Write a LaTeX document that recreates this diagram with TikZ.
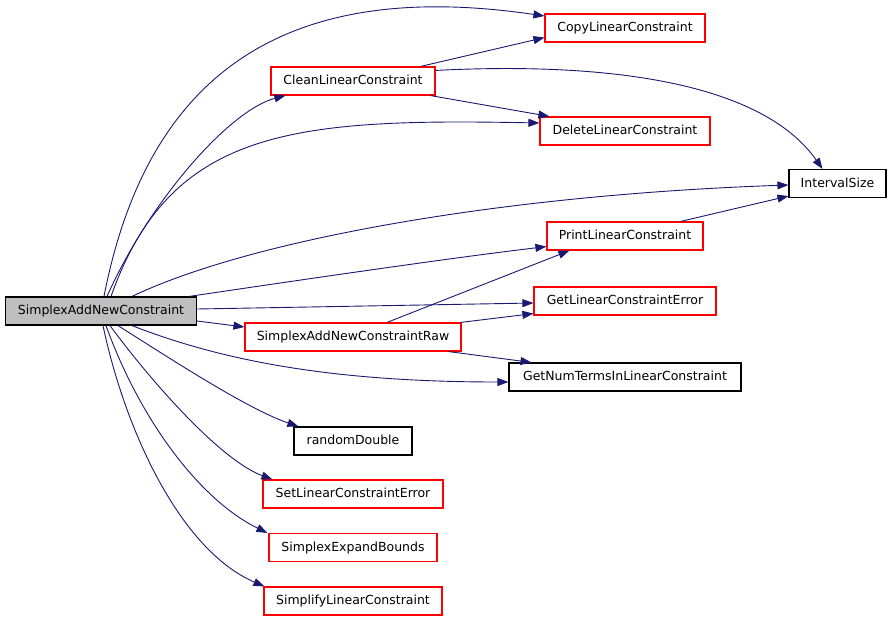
\documentclass[tikz,border=0pt]{standalone}
\usepackage{fontspec}
\setmainfont{DejaVu Sans}
\usetikzlibrary{arrows.meta}
\definecolor{edgeblue}{RGB}{25,25,112}
\definecolor{mainfill}{RGB}{191,191,191}
\definecolor{boxred}{RGB}{255,0,0}
\begin{document}
\begin{tikzpicture}[x=1pt,y=-1pt,
  box/.style={draw=boxred, line width=1.15pt, fill=white, minimum height=28pt, inner sep=0pt,
    font=\fontsize{12.5}{14}\selectfont, text height=9.5pt, text depth=2.5pt},
  bbox/.style={box, draw=black},
  mainbox/.style={box, draw=black, fill=mainfill},
  edge/.style={draw=edgeblue, line width=0.9pt, -{Triangle[length=11pt,width=8pt]}},
]
\useasboundingbox (0,0) rectangle (891,621);

\node[mainbox, minimum width=191pt] (main) at (101,311) {SimplexAddNewConstraint};
\node[box, minimum width=160pt] (copy) at (625,28) {CopyLinearConstraint};
\node[box, minimum width=164pt] (clean) at (353,81) {CleanLinearConstraint};
\node[box, minimum width=170pt] (delete) at (625,131) {DeleteLinearConstraint};
\node[bbox, minimum width=97pt] (interval) at (837.5,183.5) {IntervalSize};
\node[box, minimum width=156pt] (print) at (625,236) {PrintLinearConstraint};
\node[box, minimum width=182pt] (geterr) at (625,301) {GetLinearConstraintError};
\node[box, minimum width=216pt] (raw) at (353,337) {SimplexAddNewConstraintRaw};
\node[bbox, minimum width=232pt] (getnum) at (625,377) {GetNumTermsInLinearConstraint};
\node[bbox, minimum width=118pt] (random) at (353,441) {randomDouble};
\node[box, minimum width=180pt] (seterr) at (353,494) {SetLinearConstraintError};
\node[box, minimum width=168pt] (expand) at (353,547.5) {SimplexExpandBounds};
\node[box, minimum width=178pt] (simplify) at (353,601) {SimplifyLinearConstraint};

% edges from main (top side)
\draw[edge] ([xshift=3pt]main.north) .. controls (150,60) and (300,-20) .. ([yshift=12pt]copy.west);
\draw[edge] ([xshift=6pt]main.north) .. controls (150,200) and (230,110) .. ([xshift=15pt]clean.south west);
\draw[edge] ([xshift=10pt]main.north) .. controls (170,130) and (290,118) .. ([yshift=8pt]delete.west);
\draw[edge] ([xshift=31pt]main.north) .. controls (250,240) and (500,195) .. ([yshift=-1.5pt]interval.west);
\draw[edge] ([xshift=-8pt]main.north east) .. controls (300,280) and (450,258) .. ([yshift=4pt]print.south west);
\draw[edge] ([yshift=2pt]main.east) -- ([yshift=-2pt]geterr.west);
\draw[edge] ([yshift=-10pt]main.east) -- ([yshift=10pt]raw.west);
% edges from main (bottom side)
\draw[edge] ([xshift=31pt]main.south) .. controls (220,360) and (330,382) .. ([yshift=-5pt]getnum.west);
\draw[edge] ([xshift=17pt]main.south) .. controls (180,365) and (250,410) .. ([xshift=5pt]random.north west);
\draw[edge] ([xshift=9pt]main.south) .. controls (150,380) and (220,460) .. ([xshift=10pt]seterr.north west);
\draw[edge] ([xshift=5pt]main.south) .. controls (140,420) and (200,500) .. ([xshift=-1pt]expand.north west);
\draw[edge] ([xshift=2pt]main.south) .. controls (125,430) and (180,550) .. ([xshift=1pt]simplify.north west);
% other edges
\draw[edge] ([xshift=-15pt]clean.north east) -- ([yshift=5pt]copy.south west);
\draw[edge] ([yshift=-4pt]clean.north east) .. controls (600,62) and (760,80) .. ([xshift=-15pt]interval.north);
\draw[edge] ([xshift=-5pt]clean.south east) -- ([xshift=10pt]delete.north west);
\draw[edge] ([xshift=-23pt]print.north east) -- ([yshift=2pt]interval.south west);
\draw[edge] ([xshift=34pt]raw.north) -- ([xshift=23pt]print.south west);
\draw[edge] ([xshift=-1pt]raw.north east) -- ([yshift=2pt]geterr.south west);
\draw[edge] ([xshift=-13pt]raw.south east) -- ([xshift=23pt]getnum.north west);
\end{tikzpicture}
\end{document}
